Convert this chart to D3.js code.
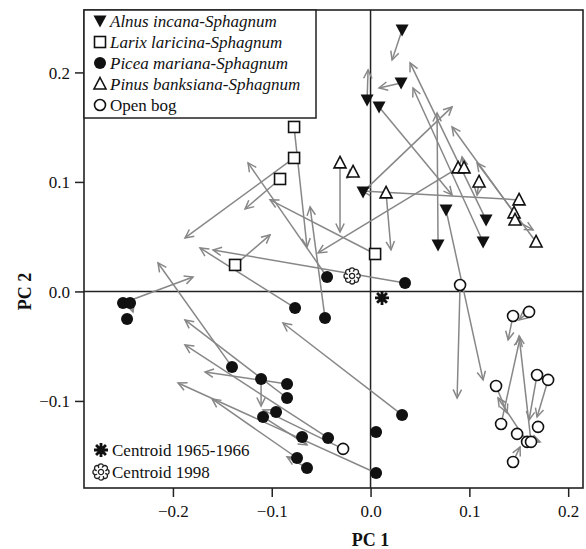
<!DOCTYPE html>
<html>
<head>
<meta charset="utf-8">
<script src="https://cdn.jsdelivr.net/npm/d3@7"></script>
<style>
  body { margin: 0; background: #fff; }
  svg text { font-family: "Liberation Serif", "DejaVu Serif", serif; fill: #111; }
  .arrow { stroke: #878787; stroke-width: 1.5; fill: none; }
</style>
</head>
<body>
<div id="chart"></div>
<script>
// each row: PC1, PC2 in 1965-66, then PC1, PC2 in 1998 (null = no visible arrow)
var alnus = [
  [0.0319, 0.2388, 0.0218, 0.2114],
  [0.0309, 0.1904, 0.0086, 0.1858],
  [-0.0035, 0.1749, -0.0025, 0.2023],
  [0.0086, 0.1685, 0.0825, 0.0881],
  [-0.0076, 0.0909, 0.0825, 0.1685],
  [0.0683, 0.0425, 0.0673, 0.1630],
  [0.0764, 0.0744, 0.1139, -0.0808],
  [0.1169, 0.0653, 0.0400, 0.2087],
  [0.1139, 0.0452, 0.0430, 0.1858]
];
var larix = [
  [-0.0774, 0.1502, -0.0643, 0.0406],
  [-0.0774, 0.1219, -0.1878, 0.0489],
  [-0.0916, 0.1027, -0.1270, 0.0753],
  [-0.1371, 0.0242, -0.1017, 0.0516],
  [0.0046, 0.0342, -0.1017, 0.0836]
];
var picea = [
  [-0.0440, 0.0132, -0.1240, 0.1174],
  [-0.0461, -0.0242, -0.0612, 0.0772],
  [-0.0764, -0.0151, -0.1726, 0.0397],
  [0.0349, 0.0078, -0.1594, 0.0379],
  [-0.2505, -0.0105, -0.1797, 0.0132],
  [-0.2434, -0.0105, -0.2404, -0.0187],
  [-0.2464, -0.0251, null, null],
  [-0.1402, -0.0689, -0.2151, 0.0260],
  [-0.1108, -0.0799, -0.1108, -0.1046],
  [-0.0845, -0.0845, -0.1675, -0.0735],
  [-0.0845, -0.0973, -0.1878, -0.0260],
  [-0.0956, -0.1100, null, null],
  [-0.1088, -0.1146, -0.0643, -0.1402],
  [-0.0693, -0.1329, null, null],
  [-0.0430, -0.1338, -0.1878, -0.0489],
  [-0.0744, -0.1521, -0.1604, -0.0982],
  [-0.0643, -0.1612, -0.0845, -0.1511],
  [0.0056, -0.1658, -0.1948, -0.0836],
  [0.0319, -0.1128, -0.0886, -0.0288],
  [0.0056, -0.1283, null, null]
];
var pinus = [
  [-0.0309, 0.1174, -0.0309, 0.0543],
  [-0.0177, 0.1091, -0.0238, 0.1037],
  [0.0157, 0.0900, 0.0207, 0.0379],
  [0.0886, 0.1128, -0.0531, 0.0352],
  [0.0946, 0.1128, 0.0926, 0.1228],
  [0.1098, 0.1000, 0.1078, 0.0881],
  [0.1503, 0.0836, -0.0086, 0.0918],
  [0.1452, 0.0717, 0.0825, 0.1502],
  [0.1462, 0.0653, 0.1645, 0.0562],
  [0.1675, 0.0452, 0.1078, 0.1174]
];
var openBog = [
  [0.0906, 0.0059, 0.0876, -0.0973],
  [0.1442, -0.0224, 0.1392, -0.0443],
  [0.1604, -0.0187, 0.1503, -0.0260],
  [0.1685, -0.0763, 0.1604, -0.1174],
  [0.1797, -0.0808, 0.1685, -0.1146],
  [0.1270, -0.0863, 0.1382, -0.1110],
  [0.1321, -0.1210, 0.1513, -0.0425],
  [0.1695, -0.1237, null, null],
  [0.1483, -0.1301, 0.1716, -0.1374],
  [0.1584, -0.1374, 0.1290, -0.0973],
  [0.1624, -0.1374, 0.1503, -0.0406],
  [0.1442, -0.1557, 0.1513, -0.1420],
  [-0.0278, -0.1438, -0.1088, -0.1082]
];
var centroid6566 = [0.0116, -0.0059];
var centroid1998 = [-0.0187, 0.0142];

var xTicks = [-0.2, -0.1, 0.0, 0.1, 0.2];
var yTicks = [-0.1, 0.0, 0.1, 0.2];
var groupLabels = ["Alnus incana-Sphagnum", "Larix laricina-Sphagnum", "Picea mariana-Sphagnum", "Pinus banksiana-Sphagnum", "Open bog"];
var centroidLabels = ["Centroid 1965-1966", "Centroid 1998"];

var width = 586, height = 549;
var margin = {top: 10, right: 3, bottom: 61, left: 84};

var x = d3.scaleLinear()
    .domain([-0.29, 0.215])
    .range([margin.left, width - margin.right]);
var y = d3.scaleLinear()
    .domain([-0.1795, 0.257])
    .range([height - margin.bottom, margin.top]);

var svg = d3.select("#chart").append("svg")
    .attr("width", width)
    .attr("height", height);

svg.append("defs").append("marker")
    .attr("id", "head")
    .attr("markerUnits", "userSpaceOnUse")
    .attr("viewBox", "-10 -6 12 12")
    .attr("refX", 0).attr("refY", 0)
    .attr("markerWidth", 12).attr("markerHeight", 12)
    .attr("orient", "auto")
  .append("path")
    .attr("d", "M-8.5,-4.2L0,0L-8.5,4.2")
    .attr("fill", "none")
    .attr("stroke", "#878787")
    .attr("stroke-width", 1.5);

// zero lines
svg.append("line")
    .attr("x1", x(0)).attr("x2", x(0))
    .attr("y1", y.range()[1]).attr("y2", y.range()[0])
    .attr("stroke", "#222").attr("stroke-width", 1.5);
svg.append("line")
    .attr("x1", x.range()[0]).attr("x2", x.range()[1])
    .attr("y1", y(0)).attr("y2", y(0))
    .attr("stroke", "#222").attr("stroke-width", 1.5);

var groups = [
  {rows: alnus, type: "down"},
  {rows: larix, type: "square"},
  {rows: picea, type: "dot"},
  {rows: pinus, type: "up"},
  {rows: openBog, type: "ring"}
];

// arrows first, symbols on top
groups.forEach(function(g) {
  svg.append("g").selectAll("line")
      .data(g.rows.filter(function(d) { return d[2] !== null; }))
    .enter().append("line")
      .attr("class", "arrow")
      .attr("x1", function(d) { return x(d[0]); })
      .attr("y1", function(d) { return y(d[1]); })
      .attr("x2", function(d) { return x(d[2]); })
      .attr("y2", function(d) { return y(d[3]); })
      .attr("marker-end", "url(#head)");
});

function drawSymbol(sel, type) {
  if (type == "dot") {
    sel.append("circle").attr("r", 6).attr("fill", "#111");
  } else if (type == "ring") {
    sel.append("circle").attr("r", 5.5).attr("fill", "#fff")
        .attr("stroke", "#111").attr("stroke-width", 1.6);
  } else if (type == "square") {
    sel.append("rect").attr("x", -5.5).attr("y", -5.5).attr("width", 11).attr("height", 11)
        .attr("fill", "#fff").attr("stroke", "#111").attr("stroke-width", 1.6);
  } else if (type == "up") {
    sel.append("path").attr("d", "M0,-6.5L6,5L-6,5Z")
        .attr("fill", "#fff").attr("stroke", "#111").attr("stroke-width", 1.6);
  } else if (type == "down") {
    sel.append("path").attr("d", "M-6.5,-5.5L6.5,-5.5L0,6.5Z").attr("fill", "#111");
  } else if (type == "star") {
    var d = "";
    for (var k = 0; k < 8; k++) {
      var a = k * Math.PI / 4;
      d += "M0,0L" + (7 * Math.cos(a)).toFixed(2) + "," + (7 * Math.sin(a)).toFixed(2);
    }
    sel.append("path").attr("d", d).attr("stroke", "#111").attr("stroke-width", 2.8);
    sel.append("circle").attr("r", 3.2).attr("fill", "#111");
  } else if (type == "flower") {
    for (var j = 0; j < 8; j++) {
      var b = j * Math.PI / 4;
      sel.append("circle").attr("cx", 5.5 * Math.cos(b)).attr("cy", 5.5 * Math.sin(b)).attr("r", 2.6)
          .attr("fill", "#fff").attr("stroke", "#222").attr("stroke-width", 1.3);
    }
    sel.append("circle").attr("r", 4.5).attr("fill", "#fff").attr("stroke", "none");
    sel.append("circle").attr("r", 2.6).attr("fill", "#fff").attr("stroke", "#222").attr("stroke-width", 1.3);
  }
}

groups.forEach(function(g) {
  svg.append("g").selectAll("g")
      .data(g.rows)
    .enter().append("g")
      .attr("transform", function(d) { return "translate(" + x(d[0]) + "," + y(d[1]) + ")"; })
      .each(function() { drawSymbol(d3.select(this), g.type); });
});

drawSymbol(svg.append("g").attr("transform", "translate(" + x(centroid6566[0]) + "," + y(centroid6566[1]) + ")"), "star");
drawSymbol(svg.append("g").attr("transform", "translate(" + x(centroid1998[0]) + "," + y(centroid1998[1]) + ")"), "flower");

// frame
svg.append("rect")
    .attr("x", x.range()[0]).attr("y", y.range()[1])
    .attr("width", x.range()[1] - x.range()[0])
    .attr("height", y.range()[0] - y.range()[1])
    .attr("fill", "none").attr("stroke", "#222").attr("stroke-width", 1.6);

// axes
var xAxis = svg.append("g")
    .attr("transform", "translate(0," + y.range()[0] + ")")
    .call(d3.axisBottom(x).tickValues(xTicks).tickFormat(d3.format(".1f")).tickSize(9).tickSizeOuter(0).tickPadding(8));
var yAxis = svg.append("g")
    .attr("transform", "translate(" + x.range()[0] + ",0)")
    .call(d3.axisLeft(y).tickValues(yTicks).tickFormat(d3.format(".1f")).tickSize(9).tickSizeOuter(0).tickPadding(5));
[xAxis, yAxis].forEach(function(a) {
  a.attr("font-family", null).attr("font-size", null);
  a.select(".domain").remove();
  a.selectAll(".tick line").attr("stroke", "#222").attr("stroke-width", 1.5);
  a.selectAll(".tick text").style("font-size", "17px").attr("fill", "#111");
});
yAxis.selectAll(".tick text").attr("dy", "0.34em");

svg.append("text")
    .attr("x", x(0)).attr("y", 546)
    .attr("text-anchor", "middle")
    .style("font-size", "18px").style("font-weight", "bold")
    .text("PC 1");
svg.append("text")
    .attr("transform", "translate(31," + y(0) + ") rotate(-90)")
    .attr("text-anchor", "middle")
    .style("font-size", "18px").style("font-weight", "bold")
    .text("PC 2");

// legend (top left)
var legend = svg.append("g");
legend.append("rect")
    .attr("x", x.range()[0]).attr("y", y.range()[1])
    .attr("width", 232).attr("height", 108)
    .attr("fill", "#fff").attr("stroke", "#222").attr("stroke-width", 1.5);
var legendTypes = ["down", "square", "dot", "up", "ring"];
groupLabels.forEach(function(label, i) {
  var row = legend.append("g").attr("transform", "translate(100," + (21 + i * 21) + ")");
  drawSymbol(row.append("g"), legendTypes[i]);
  row.append("text")
      .attr("x", 10).attr("y", 6)
      .style("font-size", "17px")
      .style("font-style", i < 4 ? "italic" : "normal")
      .text(label);
});

// centroid legend (bottom left)
centroidLabels.forEach(function(label, i) {
  var row = svg.append("g").attr("transform", "translate(101," + (450 + i * 22) + ")");
  drawSymbol(row.append("g"), i == 0 ? "star" : "flower");
  row.append("text")
      .attr("x", 11).attr("y", 6)
      .style("font-size", "17px")
      .text(label);
});
</script>
</body>
</html>
